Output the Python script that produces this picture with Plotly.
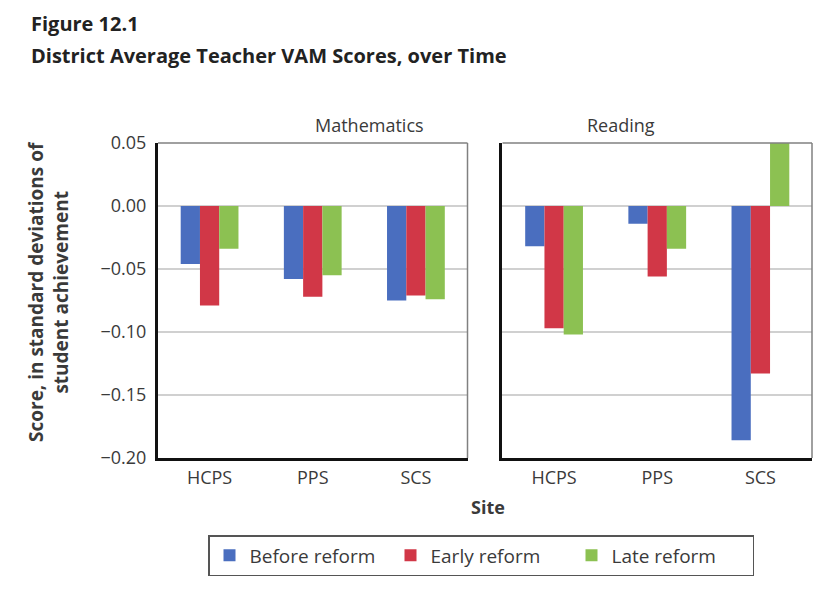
import plotly.graph_objects as go
from plotly.subplots import make_subplots

sites = ["HCPS", "PPS", "SCS"]
subjects = ["Mathematics", "Reading"]
series_names = ["Before reform", "Early reform", "Late reform"]
colors = ["#4a6ebf", "#d13747", "#8cc152"]

math_before = [-0.046, -0.058, -0.075]
math_early = [-0.079, -0.072, -0.071]
math_late = [-0.034, -0.055, -0.074]

reading_before = [-0.032, -0.014, -0.186]
reading_early = [-0.097, -0.056, -0.133]
reading_late = [-0.102, -0.034, 0.050]

y_ticks = [0.05, 0.00, -0.05, -0.10, -0.15, -0.20]

FONT = "Open Sans"
TXT = "#3a3a3a"

# page body has an 8px default margin; lay out in reference pixels minus that offset
OFF = 8
W, H = 828 - OFF, 594 - OFF
ML, MT = 158 - OFF, 143 - OFF
MR = W - (812 - OFF)
MB = H - (458 - OFF)
PW, PH = W - ML - MR, H - MT - MB


def px_x(x):
    return (x - OFF - ML) / PW


def px_y(y):
    return (H - MB - (y - OFF)) / PH


fig = make_subplots(rows=1, cols=2, shared_yaxes=True, horizontal_spacing=0.0535)

data = {
    1: [math_before, math_early, math_late],
    2: [reading_before, reading_early, reading_late],
}
for col in (1, 2):
    for i, (name, vals) in enumerate(zip(series_names, data[col])):
        fig.add_trace(
            go.Bar(x=sites, y=vals, name=name, marker=dict(color=colors[i], line=dict(width=0)),
                   showlegend=(col == 1), legendgroup=name),
            row=1, col=col,
        )

for col in (1, 2):
    fig.update_xaxes(showline=True, linecolor="#111111", linewidth=3, ticks="", automargin=False,
                     ticklabelstandoff=1,
                     tickfont=dict(family=FONT, size=18, color=TXT), row=1, col=col)
    fig.update_yaxes(range=[-0.20, 0.05], tickvals=y_ticks, tickformat=".2f", automargin=False,
                     showgrid=True, gridcolor="#d0d0d0", gridwidth=1.5, zeroline=False,
                     showline=True, linecolor="#111111", linewidth=3, ticks="",
                     ticklabelstandoff=5,
                     tickfont=dict(family=FONT, size=18, color=TXT), row=1, col=col)
    xr = "x domain" if col == 1 else "x2 domain"
    yr = "y domain" if col == 1 else "y2 domain"
    fig.add_shape(type="line", xref=xr, yref=yr, x0=0, x1=1, y0=1, y1=1,
                  line=dict(color="#808080", width=1.5), layer="above")
    fig.add_shape(type="line", xref=xr, yref=yr, x0=1, x1=1, y0=0, y1=1,
                  line=dict(color="#808080", width=1.5), layer="above")

fig.update_yaxes(showticklabels=True, row=1, col=1)
fig.update_yaxes(showticklabels=False, row=1, col=2)

annotations = [
    dict(text="Mathematics", x=0.2363, y=px_y(125), xref="paper", yref="paper", yanchor="middle",
         showarrow=False, font=dict(family=FONT, size=18, color=TXT)),
    dict(text="Reading", x=0.7635, y=px_y(125), xref="paper", yref="paper", yanchor="middle",
         showarrow=False, font=dict(family=FONT, size=18, color=TXT)),
    dict(text="<b>Site</b>", x=px_x(488), y=px_y(507), xref="paper", yref="paper", yanchor="middle",
         showarrow=False, font=dict(family=FONT, size=18, color=TXT)),
    dict(text="<b>Score, in standard deviations of<br>student achievement</b>", x=px_x(48), y=px_y(292),
         xref="paper", yref="paper", xanchor="center", yanchor="middle", textangle=-90,
         showarrow=False, font=dict(family=FONT, size=19, color=TXT)),
    dict(text="<b>Figure 12.1</b>", x=px_x(29), y=px_y(23), xref="paper", yref="paper",
         xanchor="left", yanchor="middle", showarrow=False, font=dict(family=FONT, size=20, color="#222")),
    dict(text="<b>District Average Teacher VAM Scores, over Time</b>", x=px_x(29), y=px_y(55),
         xref="paper", yref="paper", xanchor="left", yanchor="middle", showarrow=False,
         font=dict(family=FONT, size=20, color="#222")),
]

fig.update_layout(
    width=W, height=H,
    margin=dict(l=ML, r=MR, t=MT, b=MB, autoexpand=False),
    paper_bgcolor="white", plot_bgcolor="white",
    barmode="group", bargap=0.44, bargroupgap=0,
    annotations=annotations,
    legend=dict(orientation="h", xref="container", yref="container",
                x=(208 - OFF) / W, xanchor="left", y=1 - (535 - OFF) / H, yanchor="top",
                bordercolor="#555555", borderwidth=1.5, entrywidth=136,
                font=dict(family=FONT, size=19, color=TXT), traceorder="normal",
                itemwidth=30),
    font=dict(family=FONT),
)

fig.write_html("out.html")
